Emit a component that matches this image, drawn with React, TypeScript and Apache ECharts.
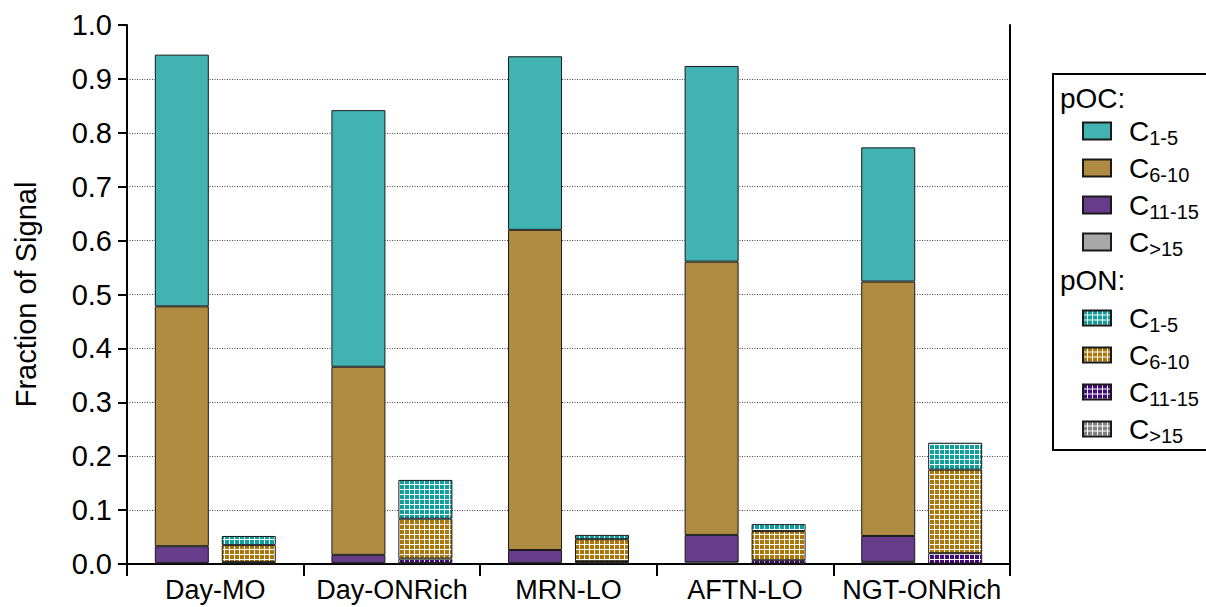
import React, { useEffect, useRef } from 'react';
import * as echarts from 'echarts';

const categories = ['Day-MO', 'Day-ONRich', 'MRN-LO', 'AFTN-LO', 'NGT-ONRich'];
const yTicks = [0, 0.1, 0.2, 0.3, 0.4, 0.5, 0.6, 0.7, 0.8, 0.9, 1.0];

// pOC fractions (stacked from bottom: >15, 11-15, 6-10, 1-5)
const pocC15 = [0.002, 0.002, 0.002, 0.003, 0.004];
const pocC11 = [0.031, 0.015, 0.024, 0.051, 0.048];
const pocC6 = [0.445, 0.349, 0.594, 0.507, 0.472];
const pocC1 = [0.467, 0.476, 0.322, 0.363, 0.249];

// pON fractions
const ponC15 = [0.001, 0.002, 0.004, 0.001, 0.001];
const ponC11 = [0.003, 0.008, 0.001, 0.006, 0.019];
const ponC6 = [0.031, 0.074, 0.041, 0.054, 0.155];
const ponC1 = [0.017, 0.072, 0.008, 0.013, 0.050];

const FONT = '"Liberation Sans", Arial, sans-serif';

const pocColors = { c1: '#40b3b2', c6: '#b08c42', c11: '#673d8b', c15: '#a8a8a8' };
const ponColors = { c1: '#0e9f9f', c6: '#ad760a', c11: '#45087f', c15: '#808080' };

const subOf: Record<string, string> = {
  'pOC C1-5': '1-5', 'pOC C6-10': '6-10', 'pOC C11-15': '11-15', 'pOC C>15': '>15',
  'pON C1-5': '1-5', 'pON C6-10': '6-10', 'pON C11-15': '11-15', 'pON C>15': '>15',
};

function gridPattern(color: string): any {
  const c = document.createElement('canvas');
  c.width = 5;
  c.height = 5;
  const ctx = c.getContext('2d')!;
  ctx.fillStyle = '#ffffff';
  ctx.fillRect(0, 0, 5, 5);
  ctx.fillStyle = color;
  ctx.fillRect(0, 0, 4, 4);
  return { image: c.toDataURL(), repeat: 'repeat', imageWidth: 5, imageHeight: 5 };
}

function mk(name: string, data: number[], stack: string, color: string, pattern: boolean) {
  const itemStyle: any = {
    color: pattern ? gridPattern(color) : color,
    borderColor: '#1a1a1a',
    borderWidth: 1,
  };
  return {
    name,
    type: 'bar',
    stack,
    data,
    xAxisIndex: 0,
    yAxisIndex: 0,
    barWidth: 54,
    barGap: '24%',
    itemStyle,
    emphasis: { disabled: true },
  };
}

const rich = {
  c: { fontSize: 28, lineHeight: 34, fontFamily: FONT, color: '#000', padding: [0, 0, 0, 13] },
  s: { fontSize: 20, lineHeight: 15, verticalAlign: 'bottom', fontFamily: FONT, color: '#000' },
};

export default function App() {
  const ref = useRef<HTMLDivElement>(null);
  useEffect(() => {
    const chart = echarts.init(ref.current!, null, { renderer: 'svg' });
    const series = [
      mk('pOC C>15', pocC15, 'poc', pocColors.c15, false),
      mk('pOC C11-15', pocC11, 'poc', pocColors.c11, false),
      mk('pOC C6-10', pocC6, 'poc', pocColors.c6, false),
      mk('pOC C1-5', pocC1, 'poc', pocColors.c1, false),
      mk('pON C>15', ponC15, 'pon', ponColors.c15, true),
      mk('pON C11-15', ponC11, 'pon', ponColors.c11, true),
      mk('pON C6-10', ponC6, 'pon', ponColors.c6, true),
      mk('pON C1-5', ponC1, 'pon', ponColors.c1, true),
    ];
    const legendCommon = {
      orient: 'vertical',
      left: 1077,
      icon: 'rect',
      itemWidth: 28,
      selectedMode: false,
      itemGap: 6,
      formatter: (n: string) => `{c|C}{s|${subOf[n]}}`,
      textStyle: { rich, fontFamily: FONT },
    };
    chart.setOption({
      animation: false,
      backgroundColor: '#fff',
      textStyle: { fontFamily: FONT },
      grid: { left: 127, right: 196, top: 25, bottom: 43, containLabel: false },
      xAxis: [
        {
          type: 'category',
          data: categories,
          offset: 3,
          axisLine: { show: true, lineStyle: { color: '#000', width: 2 } },
          axisTick: { show: true, length: 12, lineStyle: { color: '#000', width: 2 } },
          axisLabel: { fontSize: 27, color: '#000', margin: 9, fontFamily: FONT, interval: 0, hideOverlap: false },
        },
        {
          type: 'category',
          data: categories,
          position: 'top',
          axisLine: { show: true, lineStyle: { color: '#000', width: 2 } },
          axisTick: { show: false },
          axisLabel: { show: false },
        },
      ],
      yAxis: [
        {
          type: 'value',
          min: yTicks[0],
          max: yTicks[yTicks.length - 1],
          interval: 0.1,
          axisLine: { show: true, lineStyle: { color: '#000', width: 2 } },
          axisTick: { show: true, length: 9, lineStyle: { color: '#000', width: 2 } },
          axisLabel: {
            fontSize: 29,
            color: '#000',
            margin: 15,
            fontFamily: FONT,
            formatter: (v: number) => v.toFixed(1),
          },
          splitLine: {
            show: true,
            showMinLine: false,
            showMaxLine: false,
            lineStyle: { color: '#444', type: [1, 1.5], width: 1 },
          },
          name: 'Fraction of Signal',
          nameLocation: 'middle',
          nameGap: 87,
          nameTextStyle: { fontSize: 29, color: '#000', fontFamily: FONT },
        },
        {
          type: 'value',
          position: 'right',
          min: 0,
          max: 1,
          axisLine: { show: true, lineStyle: { color: '#000', width: 2 } },
          axisTick: { show: false },
          axisLabel: { show: false },
          splitLine: { show: false },
        },
      ],
      legend: [
        { ...legendCommon, top: 112, itemHeight: 17, data: ['pOC C1-5', 'pOC C6-10', 'pOC C11-15', 'pOC C>15'] },
        { ...legendCommon, top: 299, itemHeight: 15, data: ['pON C1-5', 'pON C6-10', 'pON C11-15', 'pON C>15'] },
      ],
      graphic: [
        { type: 'rect', shape: { x: 1053, y: 74, width: 200, height: 376 }, style: { fill: 'none', stroke: '#000', lineWidth: 2 } },
        { type: 'text', x: 1060, y: 98, style: { text: 'pOC:', fontSize: 28, fontFamily: FONT, fill: '#000', verticalAlign: 'middle' } },
        { type: 'text', x: 1060, y: 280, style: { text: 'pON:', fontSize: 28, fontFamily: FONT, fill: '#000', verticalAlign: 'middle' } },
        { type: 'line', shape: { x1: 127, y1: 562, x2: 127, y2: 569 }, style: { stroke: '#000', lineWidth: 2 } },
        { type: 'line', shape: { x1: 1010, y1: 562, x2: 1010, y2: 569 }, style: { stroke: '#000', lineWidth: 2 } },
      ],
      series,
    });
    return () => chart.dispose();
  }, []);
  return (
    <div
      ref={ref}
      style={{ position: 'fixed', left: 0, top: 0, width: 1206, height: 607, background: '#fff' }}
    />
  );
}
